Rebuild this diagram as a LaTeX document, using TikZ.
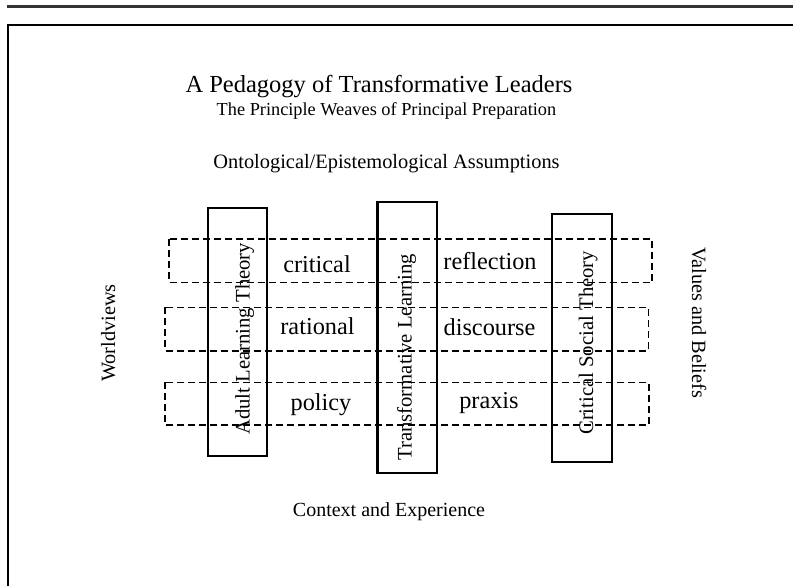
\documentclass[tikz,border=0pt]{standalone}
\usepackage{fontspec}
\setmainfont{Liberation Serif}
\begin{document}
\begin{tikzpicture}[x=1pt,y=-1pt,
  pillar/.style={draw,line width=2.1pt},
  weave/.style={draw,line width=1.6pt,dash pattern=on 7pt off 4pt},
  lbl/.style={inner sep=0pt,anchor=base,font=\fontsize{24.3}{28}\selectfont},
  vlbl/.style={inner sep=0pt,anchor=base west,rotate=90,font=\fontsize{20.7}{24}\selectfont},
  side/.style={inner sep=0pt,anchor=base west,font=\fontsize{20.3}{24}\selectfont}]
\useasboundingbox (0,0) rectangle (793,586);
% top rule and frame
\coordinate (r1) at (7,7);
\coordinate (r2) at (793,7);
\draw[line width=3pt,black!80] (r1) -- (r2);
\coordinate (f1) at (8.3,586);
\coordinate (f2) at (8.3,25);
\coordinate (f3) at (793,25);
\draw[line width=2.2pt] (f1) -- (f2) -- (f3);
% titles
\node[inner sep=0pt,anchor=base,font=\fontsize{24.5}{28}\selectfont] (title) at (379,92.3) {A Pedagogy of Transformative Leaders};
\node[inner sep=0pt,anchor=base,font=\fontsize{18.3}{22}\selectfont] (sub) at (386.5,115) {The Principle Weaves of Principal Preparation};
\node[inner sep=0pt,anchor=base,font=\fontsize{20.4}{24}\selectfont] (onto) at (386.5,168.3) {Ontological/Epistemological Assumptions};
\node[inner sep=0pt,anchor=base,font=\fontsize{20}{24}\selectfont] (ctx) at (389,516.7) {Context and Experience};
\node[side,rotate=90] (world) at (115,382) {Worldviews};
\node[side,rotate=-90] (vals) at (692,247) {Values and Beliefs};
% dashed weaves
\draw[weave] (169,239) rectangle (652,282.3);
\draw[weave] (165,307.3) rectangle (648.3,350.7);
\draw[weave] (165,382.3) rectangle (649,425);
% pillars
\draw[pillar] (208.3,208.3) rectangle (267.3,455.7);
\draw[pillar] (377.5,202.3) rectangle (437,473.3);
\draw[pillar] (552.3,214) rectangle (612.3,462.3);
% pillar labels
\node[vlbl] (alt) at (249.5,435) {Adult Learning Theory};
\node[vlbl] (tl) at (411.7,461) {Transformative Learning};
\node[vlbl] (cst) at (593,435) {Critical Social Theory};
% weave labels
\node[lbl] (critical) at (317,272.3) {critical};
\node[lbl] (reflection) at (490,269) {reflection};
\node[lbl] (rational) at (317.5,334.3) {rational};
\node[lbl] (discourse) at (489.5,335) {discourse};
\node[lbl] (policy) at (321,410) {policy};
\node[lbl] (praxis) at (489,408) {praxis};
\end{tikzpicture}
\end{document}
